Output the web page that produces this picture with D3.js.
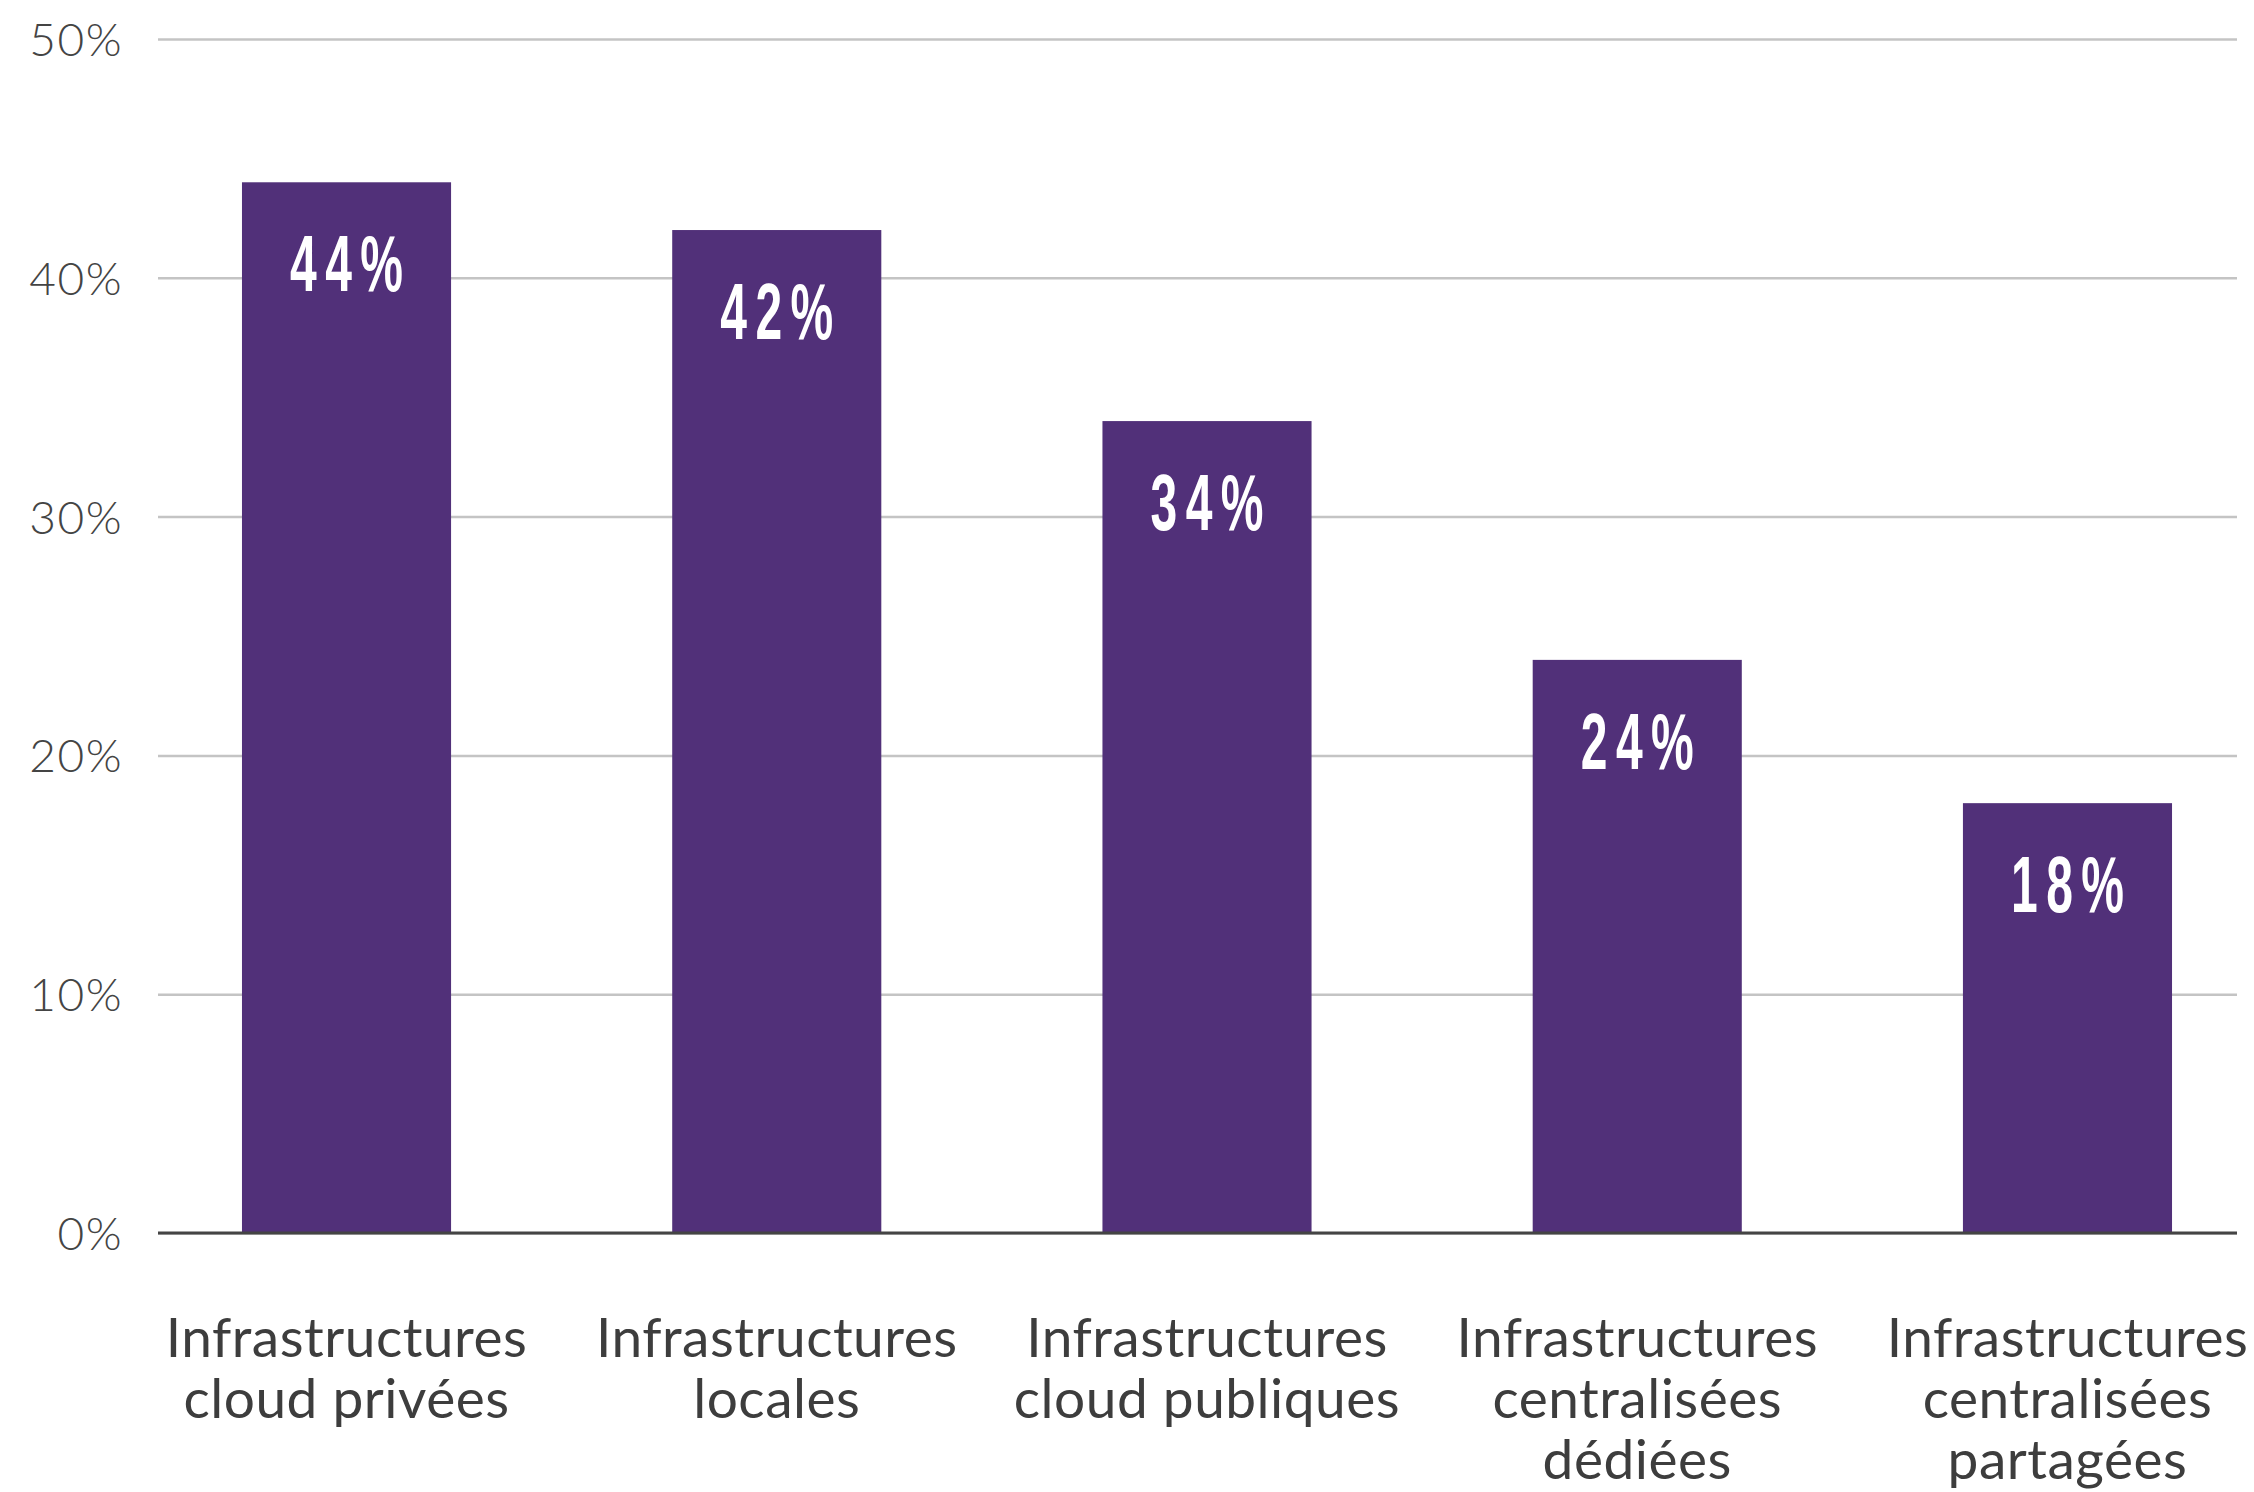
<!DOCTYPE html>
<html>
<head>
<meta charset="utf-8">
<script src="https://cdn.jsdelivr.net/npm/d3@7"></script>
<style>
    html, body { margin: 0; padding: 0; background: #fff; }
</style>
</head>
<body>
<div id="chart"></div>
<script>
// chart values
const categories = [
    ["Infrastructures", "cloud privées"],
    ["Infrastructures", "locales"],
    ["Infrastructures", "cloud publiques"],
    ["Infrastructures", "centralisées", "dédiées"],
    ["Infrastructures", "centralisées", "partagées"]
];
const values = [44, 42, 34, 24, 18];
const yTicks = [0, 10, 20, 30, 40, 50];

const width = 2254;
const height = 1492;

const svg = d3.select("#chart").append("svg")
    .attr("width", width)
    .attr("height", height);

// scales
const xScale = d3.scaleBand()
    .domain(d3.range(categories.length))
    .range([131.4, 2282.6])
    .paddingInner(0.514)
    .paddingOuter(0.257);

const yScale = d3.scaleLinear()
    .domain([0, 50])
    .range([1233, 39]);

const gridLeft = 158;
const gridRight = 2237;

// gridlines + tick labels
const yAxis = d3.axisLeft(yScale)
    .tickValues(yTicks)
    .tickSize(-(gridRight - gridLeft))
    .tickPadding(35)
    .tickFormat(d => d + "%");

const yAxisGroup = svg.append("g")
    .attr("transform", `translate(${gridLeft},0)`)
    .call(yAxis);

yAxisGroup.select(".domain").remove();
yAxisGroup.selectAll(".tick line")
    .attr("stroke", "#c4c4c4")
    .attr("stroke-width", 2.5);
yAxisGroup.selectAll(".tick text")
    .attr("fill", "#444")
    .attr("dy", "0.36em")
    .style("font-family", "Lato, sans-serif")
    .style("font-weight", 300)
    .style("font-size", "46px")
    .style("letter-spacing", "1.5px");

// bars
svg.append("g")
    .selectAll("rect")
    .data(values)
    .enter().append("rect")
    .attr("x", (d, i) => xScale(i))
    .attr("y", d => yScale(d))
    .attr("width", xScale.bandwidth())
    .attr("height", d => yScale(0) - yScale(d))
    .attr("fill", "#513079");

// baseline
svg.append("line")
    .attr("x1", gridLeft)
    .attr("x2", gridRight)
    .attr("y1", yScale(0))
    .attr("y2", yScale(0))
    .attr("stroke", "#444")
    .attr("stroke-width", 3);

// value labels inside bars (squeezed to look condensed)
const labelSpacing = 14;
svg.append("g")
    .selectAll("text")
    .data(values)
    .enter().append("text")
    .attr("transform", (d, i) =>
        `translate(${xScale(i) + xScale.bandwidth() / 2},${yScale(d) + 109}) scale(0.6,1)`)
    .attr("dx", labelSpacing / 2)   // letter-spacing leaves a trailing gap, re-center
    .attr("text-anchor", "middle")
    .attr("fill", "#fff")
    .style("font-family", "'Liberation Sans', Arial, sans-serif")
    .style("font-weight", "bold")
    .style("font-size", "80px")
    .style("letter-spacing", labelSpacing + "px")
    .text(d => d + "%");

// category labels
const catLabels = svg.append("g")
    .selectAll("text")
    .data(categories)
    .enter().append("text")
    .attr("x", (d, i) => xScale(i) + xScale.bandwidth() / 2)
    .attr("y", 1357)
    .attr("text-anchor", "middle")
    .attr("fill", "#3d3d3d")
    .style("font-family", "Lato, sans-serif")
    .style("font-size", "55px")
    .style("letter-spacing", "0.5px");

catLabels.selectAll("tspan")
    .data(d => d)
    .enter().append("tspan")
    .attr("x", function() { return d3.select(this.parentNode).attr("x"); })
    .attr("dy", (d, i) => i === 0 ? 0 : 61)
    .text(d => d);
</script>
</body>
</html>
